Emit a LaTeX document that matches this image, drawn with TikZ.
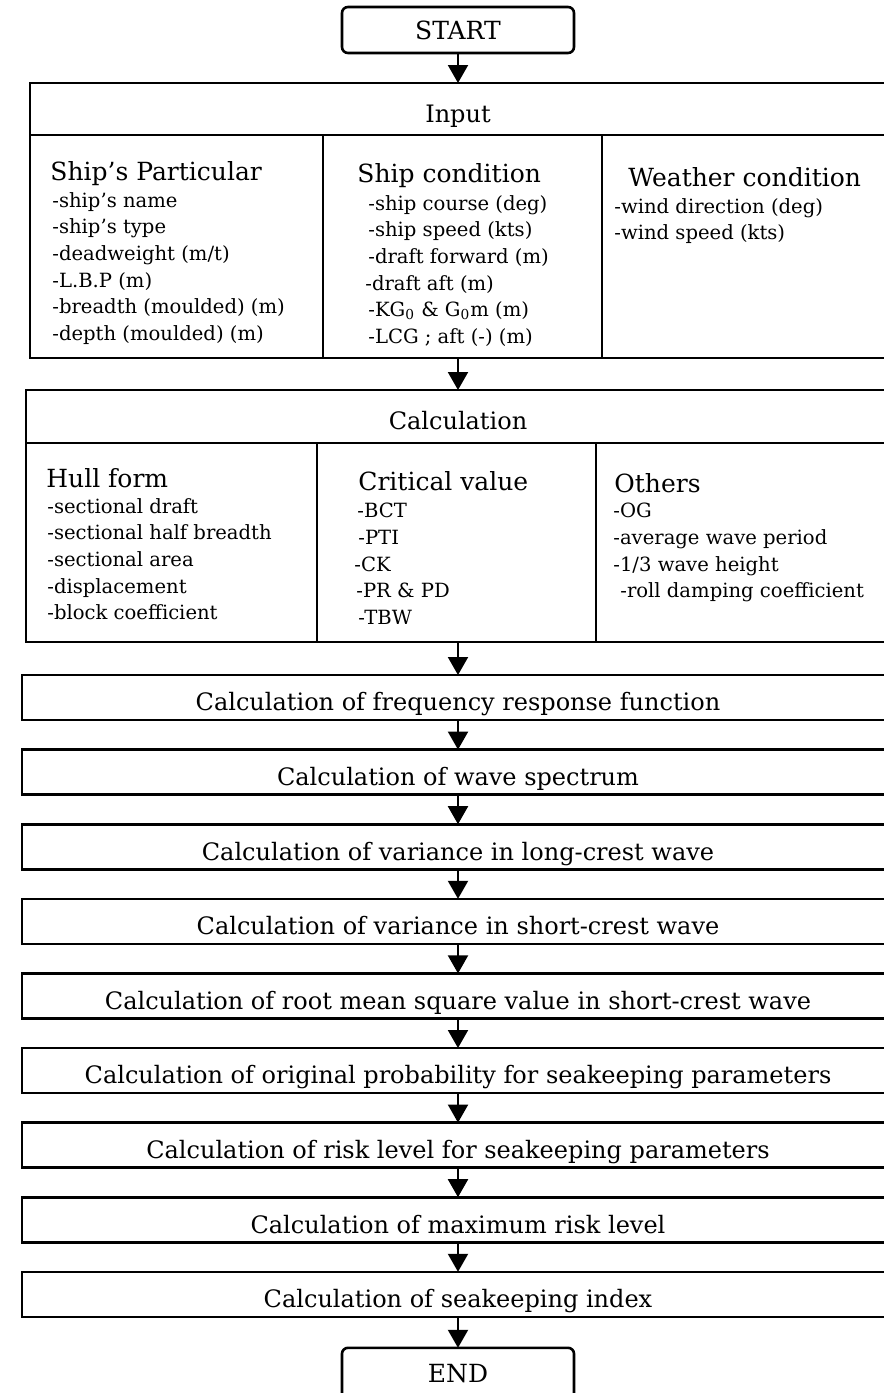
\documentclass[tikz,border=0pt]{standalone}
\usepackage{fontspec}
\setmainfont{DejaVu Serif}
\usetikzlibrary{arrows.meta, positioning}

\begin{document}
\begin{tikzpicture}[
  x=0.5pt, y=-0.5pt,
  node distance=14.8pt,
  frame/.style={draw, line width=1.3pt, inner sep=0pt, outer sep=0pt},
  endbox/.style={frame, rounded corners=3pt, minimum width=116pt, minimum height=23pt,
                 font=\fontsize{12.5}{15}\selectfont},
  colbox/.style={frame, minimum height=111.5pt, anchor=north west},
  stepbox/.style={frame, minimum width=436pt, minimum height=22.5pt,
                  text height=13.3pt, text depth=0pt, font=\fontsize{12}{14}\selectfont},
  title/.style={anchor=base west, inner sep=0pt, font=\fontsize{12.5}{15}\selectfont},
  items/.style={anchor=north west, inner sep=0pt, align=left,
                font=\fontsize{9.8}{13.3}\selectfont},
  arr/.style={-{Triangle[length=9pt, width=10pt]}, line width=1pt}
]
\useasboundingbox (0,0) rectangle (884,1393);
\clip (0,0) rectangle (884,1393);

%% ---- Input ----
\node[endbox] (start) at (458,30) {START};
\node[stepbox, minimum width=428pt, minimum height=26pt, below=15pt of start] (inhead) {Input};
\node[colbox, minimum width=146.5pt] (shipp) at (inhead.south west) {};
\node[colbox, minimum width=139.5pt] (shipc) at (shipp.north east) {};
\node[colbox, minimum width=142pt]   (weather) at (shipc.north east) {};
\coordinate (inbot) at (start |- shipp.south);

\node[title] (spt) at (50,180) {Ship’s Particular};
\node[items] (spi) at (52,192) {-ship’s name\\-ship’s type\\-deadweight (m/t)\\-L.B.P (m)\\
  -breadth (moulded) (m)\\-depth (moulded) (m)};
\node[title] (sct) at (357,182) {Ship condition};
\node[items] (sci) at (368,195) {-ship course (deg)\\-ship speed (kts)\\-draft forward (m)\\
  \hspace{-1.5pt}-draft aft (m)\\-KG\textsubscript{0} \& G\textsubscript{0}m (m)\\-LCG ; aft (-) (m)};
\node[title] (wct) at (628,186) {Weather condition};
\node[items] (wci) at (614,198) {-wind direction (deg)\\-wind speed (kts)};

%% ---- Calculation ----
\node[stepbox, minimum width=432pt, minimum height=26.5pt, below=16pt of inbot] (calhead) {Calculation};
\node[colbox, minimum width=145.5pt, minimum height=99.5pt] (hull) at (calhead.south west) {};
\node[colbox, minimum width=139.5pt, minimum height=99.5pt] (crit) at (hull.north east) {};
\node[colbox, minimum width=147pt, minimum height=99.5pt]   (others) at (crit.north east) {};
\coordinate (calbot) at (start |- hull.south);

\node[title] (hft) at (46,487) {Hull form};
\node[items] (hfi) at (47,498) {-sectional draft\\-sectional half breadth\\-sectional area\\
  -displacement\\-block coefficient};
\node[title] (cvt) at (358,490) {Critical value};
\node[items] (cvi) at (354,503) {\hspace{1.5pt}-BCT\\\hspace{2pt}-PTI\\-CK\\\hspace{1pt}-PR \& PD\\
  \hspace{2pt}-TBW};
\node[title] (ott) at (614,492) {Others};
\node[items] (oti) at (613,503) {-OG\\-average wave period\\-1/3 wave height\\
  \hspace{3.5pt}-roll damping coefficient};

%% ---- steps ----
\node[stepbox, below=16.5pt of calbot] (s1) {Calculation of frequency response function};
\node[stepbox, below=of s1] (s2) {Calculation of wave spectrum};
\node[stepbox, below=of s2] (s3) {Calculation of variance in long-crest wave};
\node[stepbox, below=of s3] (s4) {Calculation of variance in short-crest wave};
\node[stepbox, below=of s4] (s5) {Calculation of root mean square value in short-crest wave};
\node[stepbox, below=of s5] (s6) {Calculation of original probability for seakeeping parameters};
\node[stepbox, below=of s6] (s7) {Calculation of risk level for seakeeping parameters};
\node[stepbox, below=of s7] (s8) {Calculation of maximum risk level};
\node[stepbox, below=of s8] (s9) {Calculation of seakeeping index};
\node[endbox, minimum height=26pt, below=15.5pt of s9] (stop) {END};

\draw[arr] (start)  -- (inhead);
\draw[arr] (inbot)  -- (calhead);
\draw[arr] (calbot) -- (s1);
\draw[arr] (s1) -- (s2);
\draw[arr] (s2) -- (s3);
\draw[arr] (s3) -- (s4);
\draw[arr] (s4) -- (s5);
\draw[arr] (s5) -- (s6);
\draw[arr] (s6) -- (s7);
\draw[arr] (s7) -- (s8);
\draw[arr] (s8) -- (s9);
\draw[arr] (s9) -- (stop);

\end{tikzpicture}
\end{document}
